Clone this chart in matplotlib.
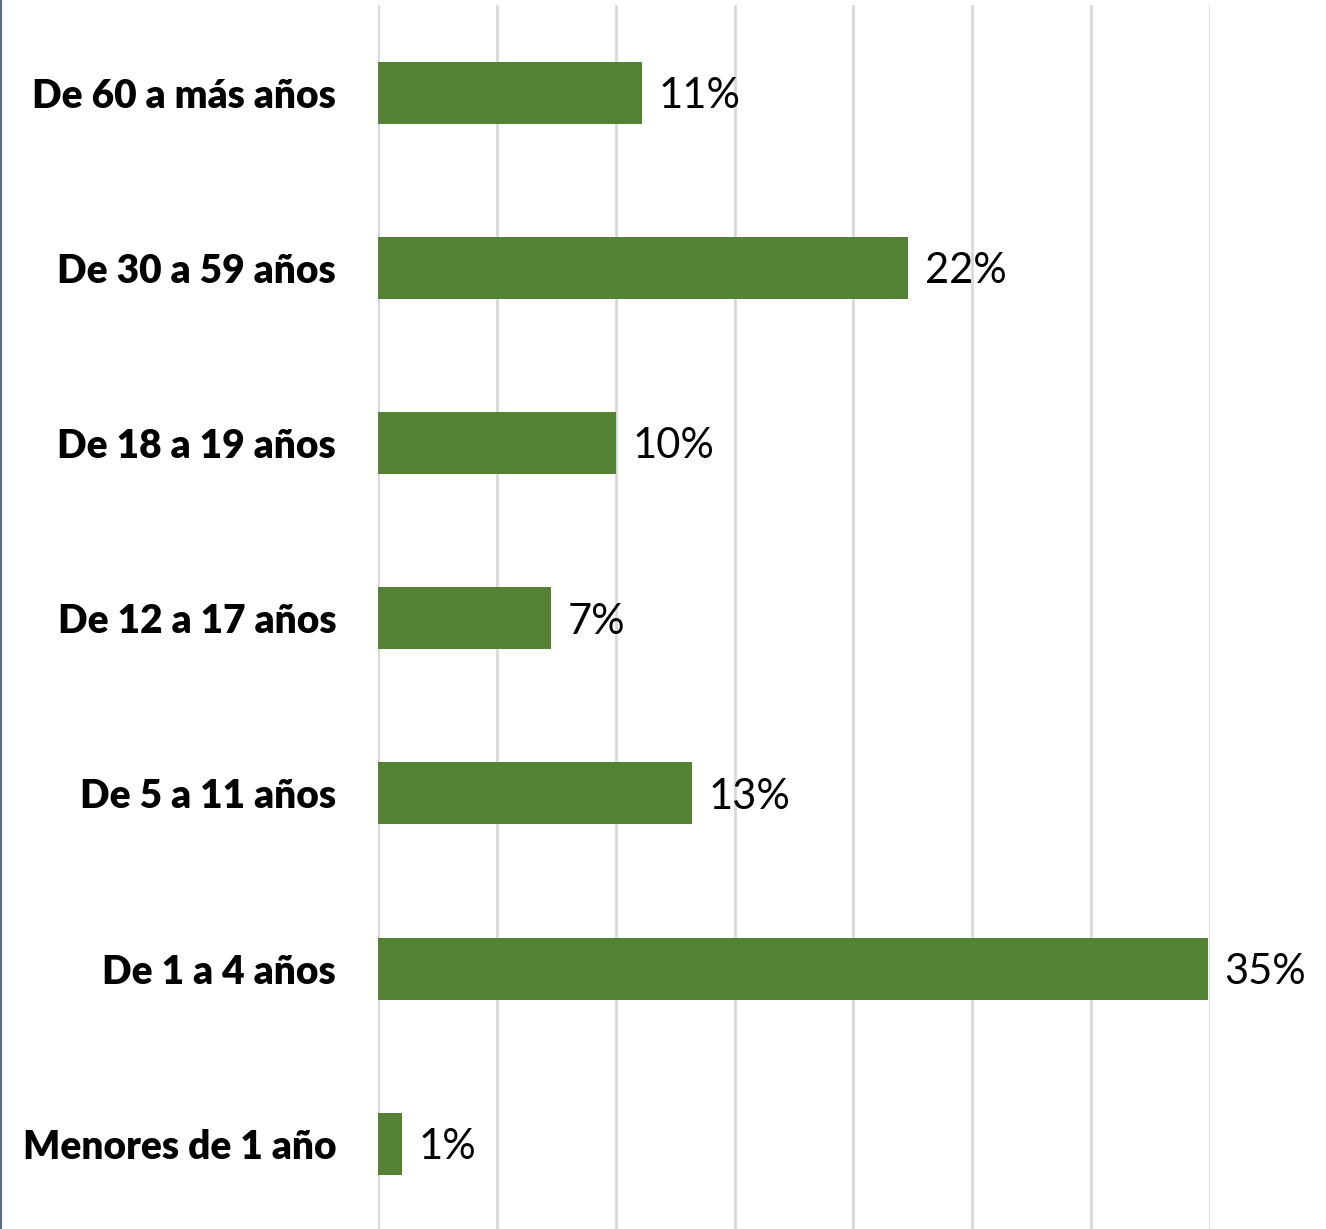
import matplotlib.pyplot as plt
from matplotlib.lines import Line2D
import numpy as np

# age groups, top to bottom in the picture
categories = ["Menores de 1 año", "De 1 a 4 años", "De 5 a 11 años",
              "De 12 a 17 años", "De 18 a 19 años", "De 30 a 59 años",
              "De 60 a más años"]
values = [1.0, 34.9, 13.2, 7.3, 10.0, 22.3, 11.1]
labels = ["1%", "35%", "13%", "7%", "10%", "22%", "11%"]

plt.rcParams['font.family'] = ['Lato', 'DejaVu Sans']

fig = plt.figure(figsize=(13.26, 12.29), dpi=100)
ax = fig.add_axes([0.285, -0.002, 0.6275, 0.998])

y = np.arange(len(categories))
ax.barh(y, values, height=0.354, color='#548235', zorder=3)

for yi, v, lab in zip(y, values, labels):
    ax.text(v + 0.7, yi - 0.02, lab, va='center', ha='left', fontsize=30, color='black')

ax.set_xlim(0, 35)
ax.set_ylim(-0.5, len(categories) - 0.5)
ax.set_xticks(np.arange(0, 36, 5))
ax.set_xticklabels([])
ax.set_yticks(y)
ax.set_yticklabels(categories, fontsize=28, fontweight='heavy')
ax.tick_params(axis='both', length=0)
ax.tick_params(axis='y', pad=30)
ax.grid(axis='x', color='#d9d9d9', linewidth=2, zorder=0)
for s in ax.spines.values():
    s.set_visible(False)

# thin frame line at the far left
fig.add_artist(Line2D([0.0008, 0.0008], [0, 1], color='#5a6a8a', linewidth=1.5))

fig.savefig('out.png', dpi=100)
